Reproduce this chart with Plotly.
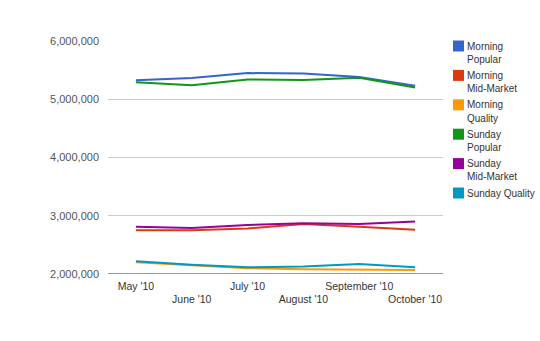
import plotly.graph_objects as go

months = ["May '10", "June '10", "July '10", "August '10", "September '10", "October '10"]
series_names = ["Morning Popular", "Morning Mid-Market", "Morning Quality",
                "Sunday Popular", "Sunday Mid-Market", "Sunday Quality"]
legend_lines = [["Morning", "Popular"], ["Morning", "Mid-Market"], ["Morning", "Quality"],
                ["Sunday", "Popular"], ["Sunday", "Mid-Market"], ["Sunday Quality"]]
morning_popular = [5326000, 5365000, 5450000, 5440000, 5380000, 5230000]
morning_mid = [2750000, 2750000, 2780000, 2860000, 2810000, 2760000]
morning_quality = [2200000, 2145000, 2100000, 2080000, 2080000, 2070000]
sunday_popular = [5290000, 5240000, 5340000, 5330000, 5370000, 5200000]
sunday_mid = [2810000, 2790000, 2840000, 2870000, 2860000, 2900000]
sunday_quality = [2220000, 2160000, 2115000, 2130000, 2170000, 2115000]
y_ticks = [2000000, 3000000, 4000000, 5000000, 6000000]

colors = ["#3366cc", "#dc3912", "#ff9900", "#109618", "#990099", "#0099c6"]
data = [morning_popular, morning_mid, morning_quality, sunday_popular, sunday_mid, sunday_quality]

W, H = 540, 341
L, R, T, B = 108, 97, 41, 67
pw, ph = W - L - R, H - T - B


def px(x):
    return (x - L) / pw


def py(y):
    return (H - B - y) / ph


fig = go.Figure()
xi = list(range(len(months)))
for name, vals, c in zip(series_names, data, colors):
    fig.add_trace(go.Scatter(x=xi, y=vals, mode="lines", name=name,
                             line=dict(color=c, width=2), showlegend=False))

ticktext = [m if i % 2 == 0 else "<br>" + m for i, m in enumerate(months)]

fig.update_layout(
    width=W, height=H,
    margin=dict(l=L, r=R, t=T, b=B, autoexpand=False),
    paper_bgcolor="white", plot_bgcolor="white",
    font=dict(family="Arial, Liberation Sans, sans-serif", size=11, color="#444"),
    xaxis=dict(tickvals=xi, ticktext=ticktext, range=[-0.5, 5.5], showgrid=False,
               showline=False, zeroline=False, ticks="", tickangle=0,
               ticklabelstandoff=4,
               tickfont=dict(size=10.5, color="#333")),
    yaxis=dict(range=[2000000, 6000000], tickvals=y_ticks, tickformat=",d",
               showgrid=True, gridcolor="#cccccc", gridwidth=1, zeroline=False,
               ticks="", ticklen=0, ticklabelstandoff=8,
               tickfont=dict(size=11, color="#555")),
    showlegend=False,
)
fig.add_shape(type="line", xref="paper", yref="y", x0=0, x1=1, y0=2000000, y1=2000000,
              line=dict(color="#333333", width=1))

# manual legend
top = 46.0
step = 29.4
line_h = 13.3
for i, (lines, c) in enumerate(zip(legend_lines, colors)):
    yc = top + i * step
    fig.add_shape(type="rect", xref="paper", yref="paper",
                  x0=px(453), x1=px(464), y0=py(yc - 5.5), y1=py(yc + 5.5),
                  fillcolor=c, line=dict(width=0))
    for j, t in enumerate(lines):
        fig.add_annotation(xref="paper", yref="paper", x=px(466), y=py(yc + j * line_h),
                           xanchor="left", yanchor="middle", text=t, showarrow=False,
                           xshift=-1, font=dict(size=10, color="#333"))
fig.write_html("out.html")
